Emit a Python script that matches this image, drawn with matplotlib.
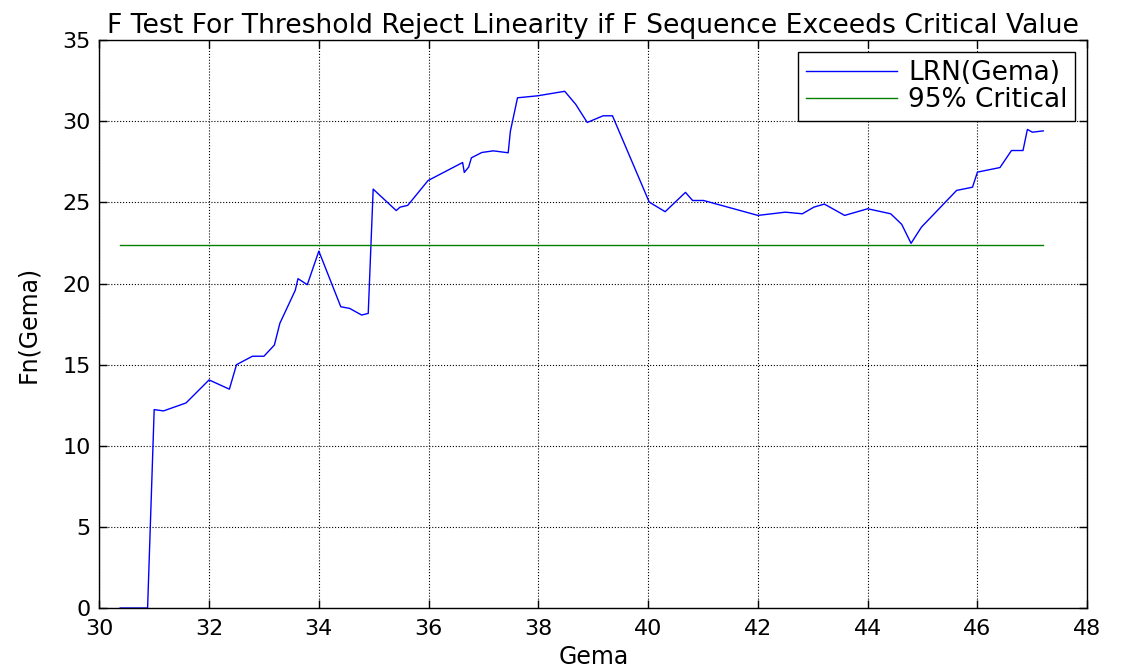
import numpy as np
import matplotlib
matplotlib.use('Agg')
import matplotlib.pyplot as plt

# datos
gema = [30.38, 30.88, 31.00, 31.17, 31.58, 32.00, 32.37, 32.50, 32.79, 33.00,
        33.19, 33.29, 33.57, 33.62, 33.79, 34.00, 34.40, 34.56, 34.78, 34.90,
        34.99, 35.41, 35.48, 35.62, 35.99, 36.62, 36.65, 36.73, 36.78, 36.97,
        37.18, 37.45, 37.49, 37.62, 37.98, 38.48, 38.68, 38.89, 39.18, 39.35,
        40.02, 40.31, 40.68, 40.81, 41.01, 42.00, 42.50, 42.81, 43.02, 43.21,
        43.58, 44.00, 44.42, 44.62, 44.79, 44.98, 45.62, 45.91, 46.00, 46.41,
        46.62, 46.83, 46.91, 47.00, 47.20]
fn = [0.0, 0.0, 12.23, 12.15, 12.64, 14.06, 13.49, 15.00, 15.52, 15.52,
      16.21, 17.55, 19.58, 20.30, 19.93, 22.00, 18.57, 18.47, 18.06, 18.16,
      25.82, 24.50, 24.71, 24.82, 26.35, 27.46, 26.85, 27.18, 27.75, 28.08,
      28.18, 28.06, 29.39, 31.45, 31.57, 31.85, 31.05, 29.93, 30.34, 30.34,
      25.02, 24.43, 25.62, 25.12, 25.12, 24.20, 24.40, 24.30, 24.71, 24.90,
      24.20, 24.61, 24.30, 23.65, 22.48, 23.48, 25.74, 25.94, 26.87, 27.15,
      28.20, 28.20, 29.50, 29.33, 29.41]
critical = 22.37

plt.rcParams['font.family'] = ['DejaVu Sans']

fig = plt.figure(figsize=(11.22, 6.70), dpi=100)
ax = fig.add_axes([0.0885, 0.0925, 0.8805, 0.8475])

ax.plot(gema, fn, color='#0000ff', lw=1.0, label='LRN(Gema)')
ax.plot([gema[0], gema[-1]], [critical, critical], color='#008000', lw=1.0,
        label='95% Critical')

ax.set_xlim(30, 48)
ax.set_ylim(0, 35)
ax.set_xticks(np.arange(30, 49, 2))
ax.set_yticks(np.arange(0, 36, 5))
ax.grid(True, color='black', linestyle=':', linewidth=0.8)
ax.tick_params(direction='in', top=True, right=True, labelsize=16, length=6, width=1)
ax.tick_params(axis='x', pad=8)
ax.tick_params(axis='y', pad=6)
for s in ax.spines.values():
    s.set_linewidth(1.0)

ax.set_title('F Test For Threshold Reject Linearity if F Sequence Exceeds Critical Value',
             fontsize=19.2, pad=5)
ax.set_xlabel('Gema', fontsize=17, labelpad=4)
ax.set_ylabel('Fn(Gema)', fontsize=17, labelpad=16)

leg = ax.legend(loc='upper right', fontsize=19, fancybox=False, framealpha=1,
                edgecolor='black', borderaxespad=0.45, handlelength=3.45,
                handletextpad=0.4, labelspacing=0.05, borderpad=0.3)
leg.get_frame().set_linewidth(1.0)

fig.savefig('out.png', dpi=100)
